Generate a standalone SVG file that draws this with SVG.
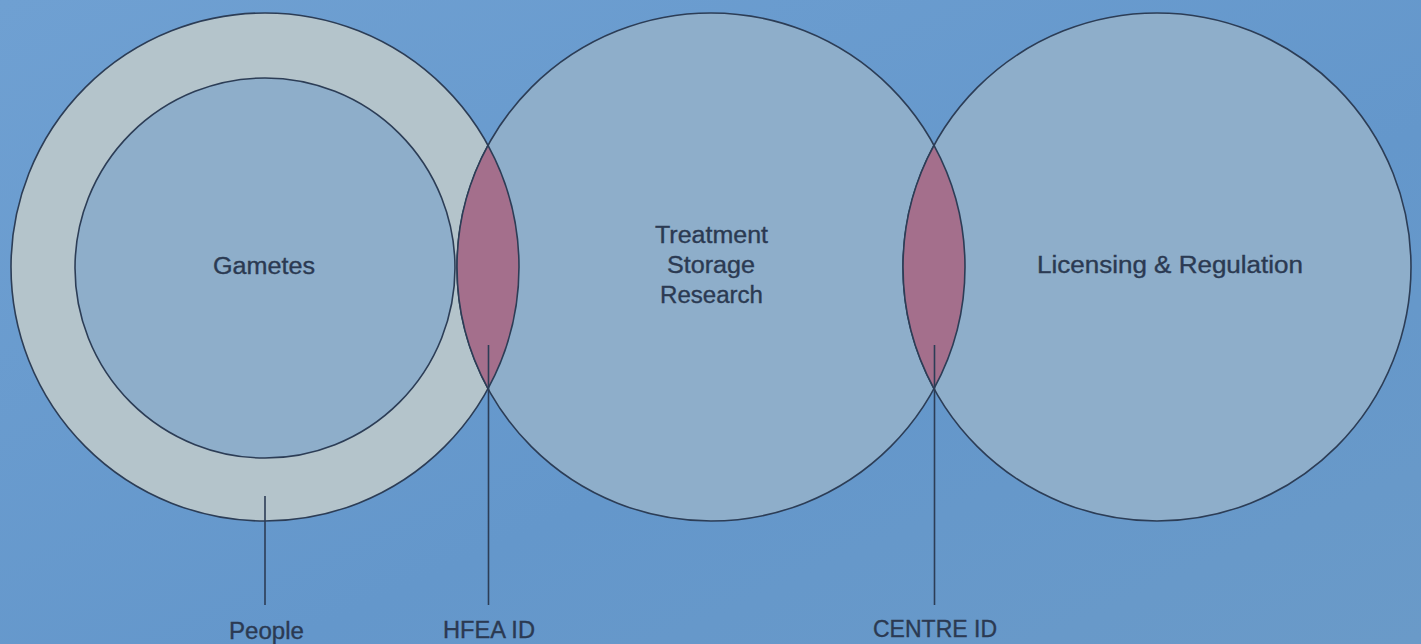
<svg xmlns="http://www.w3.org/2000/svg" width="1421" height="644" viewBox="0 0 1421 644">
  <defs>
    <linearGradient id="bg" x1="0" y1="0" x2="1" y2="1">
      <stop offset="0" stop-color="#6fa0d2"/>
      <stop offset="0.6" stop-color="#6497cb"/>
      <stop offset="1" stop-color="#6a9ac8"/>
    </linearGradient>
  </defs>
  <style>
    .c { stroke: #2c3d56; stroke-width: 1.6; }
    .disc { fill: #8eaeca; }
    .ring { fill: #b4c4cb; }
    .lens { fill: #a46f8c; stroke: #2c3d56; stroke-width: 1.6; }
    .lbl { fill: #2b3a52; stroke: #2b3a52; stroke-width: 0.35; font-family: "Liberation Sans", Arial, sans-serif; font-size: 23px; text-anchor: middle; }
    .conn { stroke: #2c3d56; stroke-width: 1.6; fill: none; }
  </style>
  <rect width="1421" height="644" fill="url(#bg)"/>

  <g id="people">
    <circle class="c ring" cx="265" cy="267" r="254"/>
  </g>
  <g id="treatment">
    <circle class="c disc" cx="711" cy="267" r="254"/>
    <text class="lbl" x="711.5" y="243" textLength="113" lengthAdjust="spacingAndGlyphs">Treatment</text>
    <text class="lbl" x="711" y="273" textLength="88" lengthAdjust="spacingAndGlyphs">Storage</text>
    <text class="lbl" x="711.5" y="303" textLength="103" lengthAdjust="spacingAndGlyphs">Research</text>
  </g>
  <g id="licensing">
    <circle class="c disc" cx="1157" cy="267" r="254"/>
    <text class="lbl" x="1170" y="273" textLength="266" lengthAdjust="spacingAndGlyphs">Licensing &amp; Regulation</text>
  </g>
  <g id="gametes">
    <circle class="c disc" cx="265" cy="268" r="190"/>
    <text class="lbl" x="264" y="274" textLength="102" lengthAdjust="spacingAndGlyphs">Gametes</text>
  </g>
  <g id="hfea-id">
    <path class="lens" d="M488 145.4 A254 254 0 0 1 488 388.6 A254 254 0 0 1 488 145.4 Z"/>
  </g>
  <g id="centre-id">
    <path class="lens" d="M934 145.4 A254 254 0 0 1 934 388.6 A254 254 0 0 1 934 145.4 Z"/>
  </g>

  <g id="connectors">
    <line class="conn" x1="265" y1="496" x2="265" y2="605"/>
    <line class="conn" x1="488.5" y1="345" x2="488.5" y2="605"/>
    <line class="conn" x1="934.5" y1="345" x2="934.5" y2="605"/>
  </g>

  <g id="labels">
    <text class="lbl" x="266.5" y="639" textLength="75" lengthAdjust="spacingAndGlyphs">People</text>
    <text class="lbl" x="489" y="638" textLength="92" lengthAdjust="spacingAndGlyphs">HFEA ID</text>
    <text class="lbl" x="935" y="637" textLength="124" lengthAdjust="spacingAndGlyphs">CENTRE ID</text>
  </g>
</svg>
